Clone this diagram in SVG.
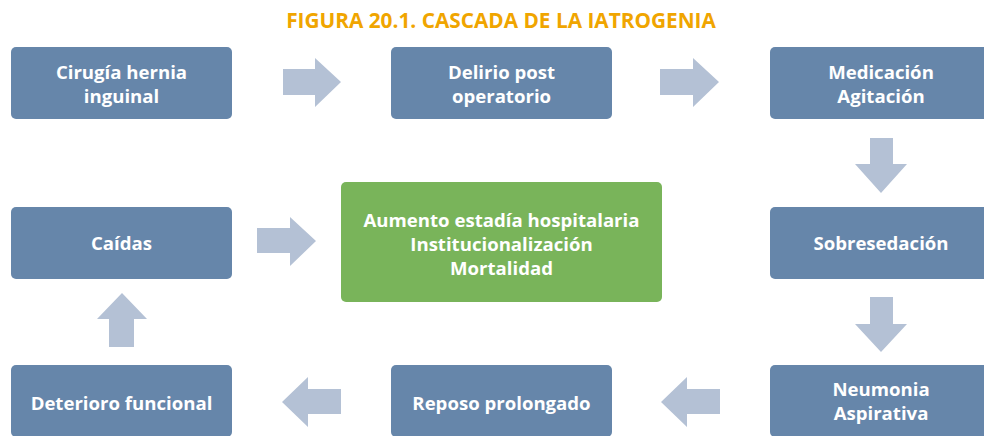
<svg xmlns="http://www.w3.org/2000/svg" width="984" height="436" viewBox="0 0 984 436">
<style>
.box{fill:#6686AA}
.green{fill:#79B45A}
.arr{fill:#B4C1D5}
.t{font-family:"Open Sans","Noto Sans","DejaVu Sans",sans-serif;font-weight:bold;font-size:18.6px;fill:#ffffff;text-anchor:middle}
.title{font-family:"Open Sans","Noto Sans","DejaVu Sans",sans-serif;font-weight:bold;font-size:20.8px;fill:#F0A500;text-anchor:middle}
</style>
<rect width="984" height="436" fill="#ffffff"/>
<text class="title" x="501" y="28">FIGURA 20.1. CASCADA DE LA IATROGENIA</text>
<g id="connectors">
<polygon class="arr" points="283,69 315,69 315,58 341,82 315,107 315,95 283,95"/>
<polygon class="arr" points="660,69 693,69 693,58 719,82 693,107 693,95 660,95"/>
<polygon class="arr" points="870,138 893,138 893,164 907,164 881,193 855,164 870,164"/>
<polygon class="arr" points="870,297 893,297 893,324 907,324 881,352 855,324 870,324"/>
<polygon class="arr" points="720,389 687,389 687,377 661,402 687,427 687,414 720,414"/>
<polygon class="arr" points="341,389 308,389 308,377 282,402 308,427 308,414 341,414"/>
<polygon class="arr" points="109,347 134,347 134,319 147,319 122,293 97,319 109,319"/>
<polygon class="arr" points="257,228 290,228 290,217 316,241 290,266 290,253 257,253"/>
</g>
<g id="n1"><rect class="box" x="11" y="47" width="221" height="72" rx="5"/><text class="t" x="121.5" y="79">Cirugía hernia</text><text class="t" x="121.5" y="103">inguinal</text></g>
<g id="n2"><rect class="box" x="391" y="47" width="221" height="72" rx="5"/><text class="t" x="501.5" y="79">Delirio post</text><text class="t" x="501.5" y="103">operatorio</text></g>
<g id="n3"><rect class="box" x="770" y="47" width="222" height="72" rx="5"/><text class="t" x="881" y="79">Medicación</text><text class="t" x="881" y="103">Agitación</text></g>
<g id="n4"><rect class="box" x="770" y="207" width="222" height="72" rx="5"/><text class="t" x="881" y="250">Sobresedación</text></g>
<g id="n5"><rect class="box" x="770" y="365" width="222" height="72" rx="5"/><text class="t" x="881" y="396">Neumonia</text><text class="t" x="881" y="420">Aspirativa</text></g>
<g id="n6"><rect class="box" x="391" y="365" width="221" height="72" rx="5"/><text class="t" x="501.5" y="410">Reposo prolongado</text></g>
<g id="n7"><rect class="box" x="11" y="365" width="221" height="72" rx="5"/><text class="t" x="121.5" y="410">Deterioro funcional</text></g>
<g id="n8"><rect class="box" x="11" y="207" width="221" height="72" rx="5"/><text class="t" x="121.5" y="250">Caídas</text></g>
<g id="center"><rect class="green" x="341" y="182" width="321" height="120" rx="5"/><text class="t" x="501.5" y="227">Aumento estadía hospitalaria</text><text class="t" x="501.5" y="251">Institucionalización</text><text class="t" x="501.5" y="275">Mortalidad</text></g>
</svg>
